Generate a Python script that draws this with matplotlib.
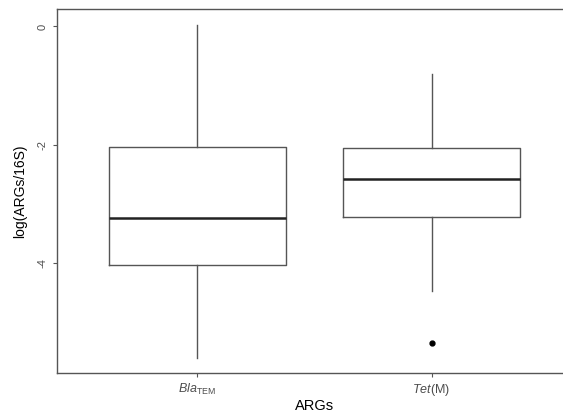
import matplotlib
matplotlib.use("Agg")
import matplotlib.pyplot as plt

plt.rcParams["font.family"] = ["Liberation Sans", "DejaVu Sans"]
plt.rcParams["mathtext.fontset"] = "custom"
plt.rcParams["mathtext.rm"] = "Liberation Sans"
plt.rcParams["mathtext.it"] = "Liberation Sans:italic"

categories = [r"$\mathit{Bla}_{\mathrm{TEM}}$", r"$\mathit{Tet}$(M)"]
whislo = [-5.59, -4.46]
q1 = [-4.03, -3.22]
med = [-3.24, -2.58]
q3 = [-2.03, -2.05]
whishi = [0.02, -0.80]
outliers = [[], [-5.34]]
yticks = [0, -2, -4]

fig = plt.figure(figsize=(5.63, 4.15), dpi=100)
ax = fig.add_axes([0.1012, 0.1012, 0.9147, 0.8764])

stats = []
for i in range(len(categories)):
    stats.append(dict(whislo=whislo[i], q1=q1[i], med=med[i], q3=q3[i],
                      whishi=whishi[i], fliers=outliers[i]))

ax.bxp(stats, positions=[1, 2], widths=0.757, showcaps=False,
       boxprops=dict(color="#555555", linewidth=1.0),
       whiskerprops=dict(color="#555555", linewidth=1.0),
       medianprops=dict(color="#222222", linewidth=1.8),
       flierprops=dict(marker="o", markerfacecolor="black", markeredgecolor="black",
                       markersize=3.5))

ax.set_xlim(0.4, 2.6)
ax.set_ylim(-5.85, 0.29)
ax.set_xticks([1, 2])
ax.set_xticklabels(categories, fontsize=9, color="#4d4d4d")
ax.set_yticks(yticks)
ax.set_yticklabels([str(t) for t in yticks], fontsize=8, color="#4d4d4d",
                   rotation=90, va="center")
ax.tick_params(axis="both", length=3, color="#555555", width=0.8)
for s in ax.spines.values():
    s.set_color("#555555")
    s.set_linewidth(1.0)
ax.set_xlabel("ARGs", fontsize=10.5, labelpad=1)
ax.set_ylabel("log(ARGs/16S)", fontsize=10, labelpad=8)

fig.savefig("out.png", dpi=100)
